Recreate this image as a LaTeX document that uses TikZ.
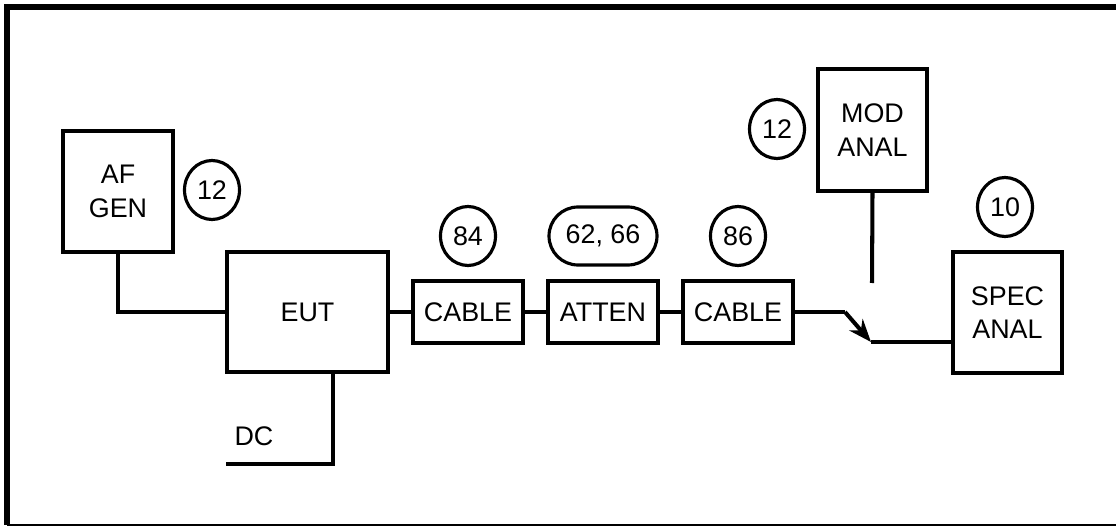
\documentclass[tikz,border=0pt]{standalone}
\usepackage{fontspec}
\setmainfont{Liberation Sans}
\usetikzlibrary{arrows.meta, shapes.geometric, shapes.misc}

\tikzset{
  box/.style={draw, line width=2.3pt, align=center, inner sep=0pt},
  tag/.style={draw, ellipse, line width=1.8pt, minimum width=1.1cm, minimum height=1.18cm, inner sep=0pt},
  wire/.style={line width=2.3pt}
}

\begin{document}
\begin{tikzpicture}[x=0.02cm, y=-0.02cm, font=\fontsize{15.3}{19}\selectfont]
  \useasboundingbox (0,0) rectangle (1116,527);
  % frame
  \draw[line width=3.4pt] (1120,7) -- (7,7) -- (7,525);
  \draw[line width=0.6pt] (7,525) -- (1120,525);

  % instruments
  \node[box, minimum width=2.2cm, minimum height=2.42cm] (afgen) at (118,191.5) {AF\\GEN};
  \node[box, minimum width=3.22cm, minimum height=2.4cm] (eut) at (307.5,312) {EUT};
  \node[box, minimum width=2.2cm, minimum height=1.24cm] (cableA) at (468,312) {CABLE};
  \node[box, minimum width=2.2cm, minimum height=1.24cm] (atten) at (603,312) {ATTEN};
  \node[box, minimum width=2.2cm, minimum height=1.24cm] (cableB) at (738,312) {CABLE};
  \node[box, minimum width=2.18cm, minimum height=2.44cm] (modanal) at (872.5,130) {MOD\\ANAL};
  \node[box, minimum width=2.18cm, minimum height=2.42cm] (specanal) at (1007.5,312.5) {SPEC\\ANAL};

  % reference tags
  \node[tag] (tagafgen) at (212,190) {12};
  \node[tag] (tagcableA) at (468,236) {84};
  \node[tag, rounded rectangle, minimum width=2.16cm, minimum height=1.16cm] (tagatten) at (603,236) {62, 66};
  \node[tag] (tagcableB) at (738,236) {86};
  \node[tag] (tagmodanal) at (777,129) {12};
  \node[tag] (tagspecanal) at (1005,207) {10};

  % supply
  \node (dc) at (254,436) {DC};
  \coordinate (dcend) at (226,464);

  % switch
  \coordinate (swin) at (845,312);
  \coordinate (swout) at (871,342);
  \coordinate (swmod) at (872,283);

  % wiring
  \draw[wire] (afgen.south) |- (eut.west);
  \draw[wire] (eut.east) -- (cableA.west);
  \draw[wire] (cableA.east) -- (atten.west);
  \draw[wire] (atten.east) -- (cableB.west);
  \draw[wire] (eut.south -| 333,0) |- (dcend);
  \draw[wire] (cableB.east) -- (swin);
  \draw[wire, -{Stealth[length=13pt, width=10pt]}] (swin) -- (swout);
  \draw[wire] (swout) -- (swout -| specanal.west);
  \draw[wire] (modanal.south) -- (swmod);
\end{tikzpicture}
\end{document}
